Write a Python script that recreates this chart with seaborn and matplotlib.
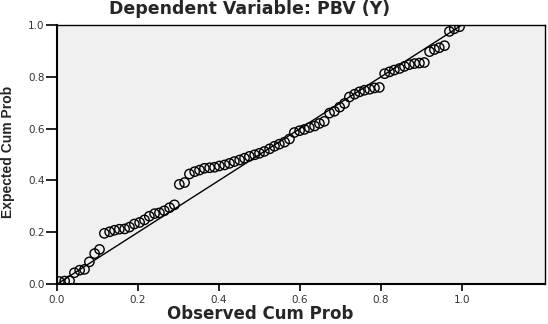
import numpy as np
import pandas as pd
import matplotlib
matplotlib.use("Agg")
import matplotlib.pyplot as plt
import seaborn as sns

# observed vs expected cumulative probabilities
observed_cum = [0.006, 0.019, 0.031, 0.043, 0.056, 0.068, 0.080, 0.093, 0.105, 0.117,
                0.130, 0.142, 0.154, 0.167, 0.179, 0.191, 0.204, 0.216, 0.228, 0.241,
                0.253, 0.265, 0.278, 0.290, 0.302, 0.315, 0.327, 0.340, 0.352, 0.364,
                0.377, 0.389, 0.401, 0.414, 0.426, 0.438, 0.451, 0.463, 0.475, 0.488,
                0.500, 0.512, 0.525, 0.537, 0.549, 0.562, 0.574, 0.586, 0.599, 0.611,
                0.623, 0.636, 0.648, 0.660, 0.673, 0.685, 0.698, 0.710, 0.722, 0.735,
                0.747, 0.759, 0.772, 0.784, 0.796, 0.809, 0.821, 0.833, 0.846, 0.858,
                0.870, 0.883, 0.895, 0.907, 0.920, 0.932, 0.944, 0.957, 0.969, 0.981,
                0.994]
expected_cum = [0.010, 0.012, 0.013, 0.044, 0.054, 0.057, 0.086, 0.118, 0.134, 0.196,
                0.202, 0.208, 0.212, 0.213, 0.220, 0.232, 0.238, 0.248, 0.262, 0.272,
                0.275, 0.283, 0.295, 0.306, 0.385, 0.392, 0.425, 0.434, 0.440, 0.447,
                0.449, 0.451, 0.456, 0.460, 0.466, 0.473, 0.479, 0.486, 0.493, 0.499,
                0.505, 0.512, 0.522, 0.532, 0.540, 0.548, 0.560, 0.585, 0.592, 0.597,
                0.604, 0.610, 0.620, 0.628, 0.660, 0.667, 0.683, 0.697, 0.722, 0.733,
                0.742, 0.748, 0.752, 0.757, 0.759, 0.812, 0.819, 0.826, 0.832, 0.840,
                0.847, 0.851, 0.853, 0.855, 0.897, 0.905, 0.912, 0.920, 0.975, 0.985,
                0.993]
ref_line = [0.0, 1.0]
x_ticks = [0.0, 0.2, 0.4, 0.6, 0.8, 1.0]
y_ticks = [0.0, 0.2, 0.4, 0.6, 0.8, 1.0]

df = pd.DataFrame({"observed": observed_cum, "expected": expected_cum})

sns.set_style("ticks")
plt.rcParams["font.family"] = ["DejaVu Sans"]

fig = plt.figure(figsize=(5.48, 3.24), dpi=100)
ax = fig.add_axes([0.104, 0.123, 0.8905, 0.8])
ax.set_facecolor("#f0f0f0")

ax.plot(ref_line, ref_line, color="black", linewidth=1.0, zorder=2)
sns.scatterplot(data=df, x="observed", y="expected", ax=ax,
                marker="o", s=45, facecolors="none", edgecolor="black",
                linewidth=1.0, zorder=3)

ax.set_xlim(0, 1.205)
ax.set_ylim(0, 1.0)
ax.set_xticks(x_ticks)
ax.set_yticks(y_ticks)
ax.set_xticklabels([f"{t:.1f}" for t in x_ticks])
ax.set_yticklabels([f"{t:.1f}" for t in y_ticks])
ax.tick_params(axis="both", direction="out", width=1.2, color="black",
               labelsize=7.5, labelcolor="#333333")
ax.tick_params(axis="x", length=5, pad=3)
ax.tick_params(axis="y", length=8, pad=1)

for side in ["left", "bottom", "top", "right"]:
    ax.spines[side].set_visible(True)
    ax.spines[side].set_color("black")
ax.spines["left"].set_linewidth(1.5)
ax.spines["bottom"].set_linewidth(1.5)
ax.spines["top"].set_linewidth(1.0)
ax.spines["right"].set_linewidth(1.0)

ax.set_xlabel("")
ax.set_ylabel("")
fig.text(260 / 548, 1 - 314 / 324, "Observed Cum Prob", ha="center", va="center",
         fontsize=12, fontweight="bold")
fig.text(8 / 548, 1 - 152 / 324, "Expected Cum Prob", ha="center", va="center",
         rotation=90, fontsize=10, fontweight="bold", family="Liberation Sans",
         stretch="condensed")
fig.text(250 / 548, 1 - 9 / 324, "Dependent Variable: PBV (Y)", ha="center", va="center",
         fontsize=12.5, fontweight="bold")

fig.savefig("out.png", dpi=100)
